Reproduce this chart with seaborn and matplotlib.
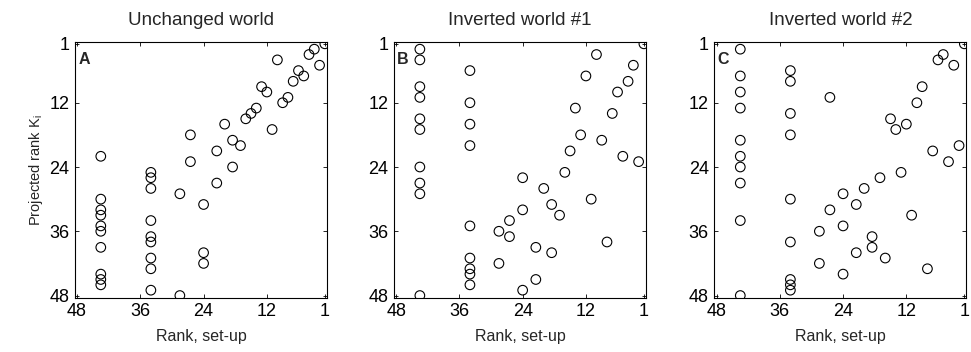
import pandas as pd
import numpy as np
import seaborn as sns
import matplotlib.pyplot as plt

# set-up rank (shared by all three panels, ties get the mean rank)
rank_setup = [43.5, 43.5, 43.5, 43.5, 43.5, 43.5, 43.5, 43.5, 43.5, 43.5,
              34, 34, 34, 34, 34, 34, 34, 34, 34,
              28.5, 28.5, 26.5, 26.5, 24, 24, 24, 21.5, 21.5, 20, 18.5, 18.5,
              17, 16, 15, 14, 13, 12, 11, 10, 9, 8, 7, 6, 5, 4, 3, 2, 1]

# projected rank K_i
k_unchanged = [22, 30, 32, 33, 35, 36, 39, 44, 45, 46,
               25, 26, 28, 34, 37, 38, 41, 43, 47,
               29, 48, 18, 23, 31, 40, 42, 21, 27, 16, 19, 24,
               20, 15, 14, 13, 9, 10, 17, 4, 12, 11, 8, 6, 7, 3, 2, 5, 1]
k_inverted1 = [2, 4, 9, 11, 15, 17, 24, 27, 29, 48,
               6, 12, 16, 20, 35, 41, 43, 44, 46,
               36, 42, 34, 37, 26, 32, 47, 39, 45, 28, 31, 40,
               33, 25, 21, 13, 18, 7, 30, 3, 19, 38, 14, 10, 22, 8, 5, 23, 1]
k_inverted2 = [2, 7, 10, 13, 19, 22, 24, 27, 34, 48,
               6, 8, 14, 18, 30, 38, 45, 46, 47,
               36, 42, 11, 32, 29, 35, 44, 31, 40, 28, 37, 39,
               26, 41, 15, 17, 25, 16, 33, 12, 9, 43, 21, 4, 3, 23, 5, 20, 1]

titles = ['Unchanged world', 'Inverted world #1', 'Inverted world #2']
letters = ['A', 'B', 'C']
tick_vals = [48, 36, 24, 12, 1]

sns.set_style('ticks')
plt.rcParams['font.family'] = ['Liberation Sans', 'DejaVu Sans']
plt.rcParams['mathtext.fontset'] = 'custom'
plt.rcParams['mathtext.rm'] = 'Liberation Sans'

fig = plt.figure(figsize=(9.71, 3.52), dpi=100)
lefts = [0.0772, 0.4058, 0.7358]

for i, ks in enumerate([k_unchanged, k_inverted1, k_inverted2]):
    df = pd.DataFrame({'setup': rank_setup, 'proj': ks})
    ax = fig.add_axes([lefts[i], 0.1543, 0.2595, 0.7273])
    sns.scatterplot(data=df, x='setup', y='proj', ax=ax, marker='o',
                    s=48, facecolor='none', edgecolor='black', linewidth=0.8)
    ax.set_xlim(48.4, 0.6)
    ax.set_ylim(48.4, 0.6)
    ax.set_xticks(tick_vals)
    ax.set_yticks(tick_vals)
    ax.tick_params(direction='in', length=3, width=0.6, top=True, right=True,
                   labelsize=13, colors='black')
    ax.tick_params(axis='x', pad=4)
    ax.tick_params(axis='y', pad=4)
    for sp in ax.spines.values():
        sp.set_visible(True)
        sp.set_linewidth(0.8)
        sp.set_color('black')
    ax.set_title(titles[i], fontsize=13.5, pad=12)
    ax.set_xlabel('Rank, set-up', fontsize=11.5, labelpad=6)
    if i == 0:
        ax.set_ylabel('Projected rank K$_\\mathrm{i}$', fontsize=10.5, labelpad=3)
    else:
        ax.set_ylabel('')
    ax.text(0.013, 0.958, letters[i], transform=ax.transAxes, fontsize=11.5,
            fontweight='bold', va='top', ha='left')

fig.savefig('out.png', dpi=100)
